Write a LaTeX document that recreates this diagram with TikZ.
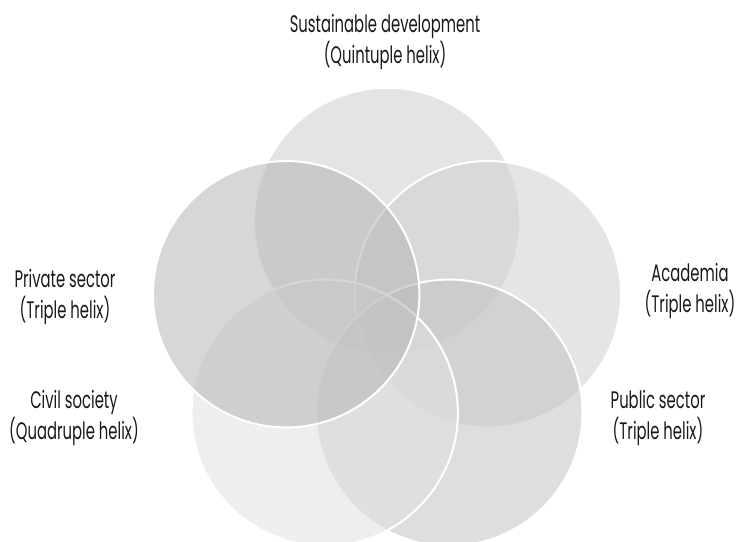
\documentclass[tikz,border=0pt]{standalone}
\usepackage{fontspec}
\setmainfont{Poppins}[FakeStretch=0.62]
\usepackage{tikz}

\definecolor{greyS}{RGB}{206,206,206}
\definecolor{greyA}{RGB}{208,208,208}
\definecolor{greyP}{RGB}{195,195,195}
\definecolor{greyC}{RGB}{224,224,224}
\definecolor{greyV}{RGB}{182,182,182}

\tikzset{
  helix/.style={draw=white,line width=1.4pt,fill opacity=0.55},
  helixlabel/.style={align=center,font=\fontsize{17}{21.7}\selectfont,text=black!90}
}

\begin{document}
\begin{tikzpicture}[scale=1]

\useasboundingbox (-9.675,-5.375) rectangle (8.875,8.175);

%five helices on a pentagon, radius 2.65
\draw[helix,fill=greyS] (90:2.65) circle (3.33);
\draw[helix,fill=greyA] (18:2.65) circle (3.33);
\draw[helix,fill=greyP] (-54:2.65) circle (3.33);
\draw[helix,fill=greyC] (-126:2.65) circle (3.33);
\draw[helix,fill=greyV] (162:2.65) circle (3.33);

%labels
\node[helixlabel] (sustain) at (-0.05,7.125) {Sustainable development\\(Quintuple helix)};
\node[helixlabel] (academia) at (7.575,0.9) {Academia\\(Triple helix)};
\node[helixlabel] (public) at (6.775,-2.275) {Public sector\\(Triple helix)};
\node[helixlabel] (civil) at (-7.825,-2.275) {Civil society\\(Quadruple helix)};
\node[helixlabel] (private) at (-8.05,0.75) {Private sector\\(Triple helix)};

\end{tikzpicture}
\end{document}
